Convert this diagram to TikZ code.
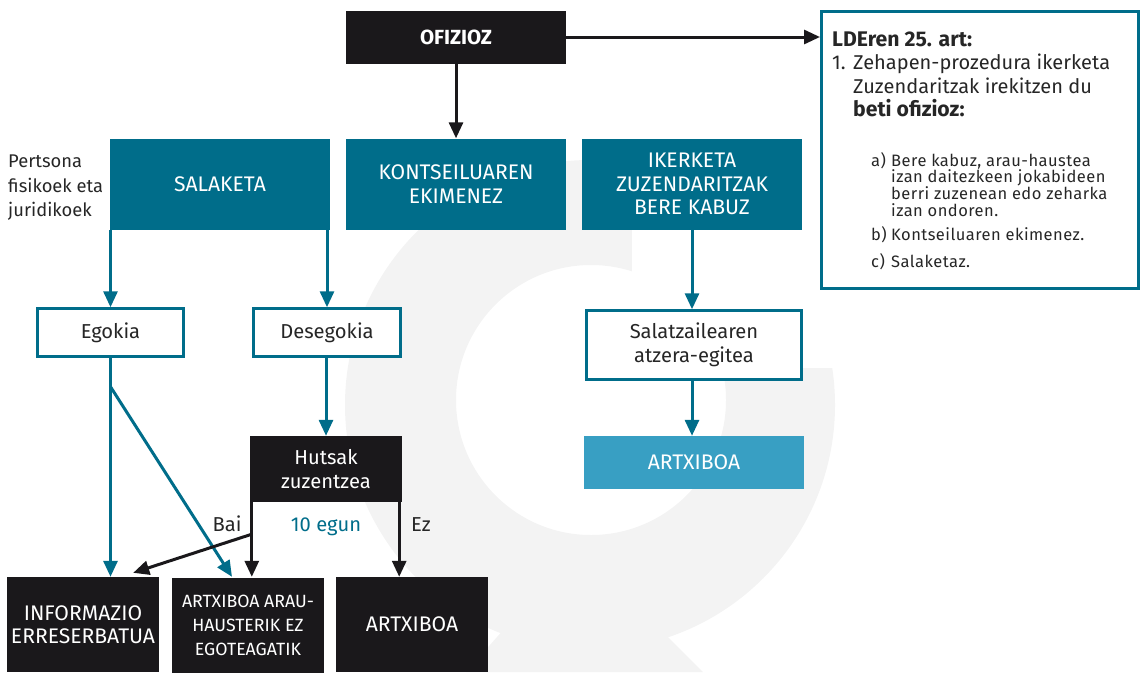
\documentclass[tikz,border=0pt]{standalone}
\usepackage{fontspec}
\setmainfont{Fira Sans}
\usetikzlibrary{arrows.meta,calc}
\definecolor{tealD}{HTML}{006D8A}
\definecolor{blueL}{HTML}{389FC3}
\definecolor{blk}{HTML}{1A181B}
\definecolor{wmark}{HTML}{F3F3F3}
\definecolor{txt}{HTML}{262626}
\newlength\fitlen
\newcommand\fitsz[3]{\settowidth\fitlen{\fontsize{10}{12}\selectfont #2}\pgfmathsetmacro#1{10*#3/\fitlen}}
\newcommand\fitls[5]{\settowidth\fitlen{\fontsize{#2}{12}\selectfont #3}\pgfmathsetmacro#1{100*(#4-\fitlen)/(#5*#2)}}
\begin{document}%
\fitsz\szCaps{KONTSEILUAREN}{155}%
\fitsz\szLow{Salatzailearen}{128.5}%
\fitsz\szPers{fisikoek eta}{95}%
\fitls\lsMain{20}{Zehapen-prozedura ikerketa}{257}{26}%
\fitsz\szBold{\bfseries LDEren 25. art:}{140}%
\fitls\lsSub{16.5}{berri zuzenean edo zeharka}{218}{26}%
\fitsz\szOfi{\bfseries OFIZIOZ}{72}%
\fitsz\szArau{ARTXIBOA ARAU-}{132}%
\edef\mainfnt{\noexpand\fontsize{20}{23}\noexpand\selectfont\noexpand\addfontfeature{LetterSpace=\lsMain}}%
\edef\subfnt{\noexpand\fontsize{16.5}{18}\noexpand\selectfont\noexpand\addfontfeature{LetterSpace=\lsSub}}%
\begin{tikzpicture}[x=1pt,y=-1pt,
  capsfont/.style={font=\fontsize{\szCaps}{23.5}\selectfont},
  lowfont/.style={font=\fontsize{\szLow}{24}\selectfont},
  tbox/.style={fill=tealD,text=white,minimum width=220pt,minimum height=91pt,inner sep=0pt,align=center,capsfont},
  wbox/.style={draw=tealD,line width=2.5pt,fill=white,text=txt,inner sep=0pt,align=center,lowfont},
  kbox/.style={fill=blk,text=white,inner sep=0pt,align=center,capsfont},
  tarr/.style={draw=tealD,line width=3pt,-{Triangle[width=14pt,length=16pt]}},
  karr/.style={draw=blk,line width=3pt,-{Triangle[width=14pt,length=16pt]}},
  lbl/.style={text=txt,inner sep=0pt,lowfont},
  pers/.style={text=txt,inner sep=0pt,anchor=base west,font=\fontsize{\szPers}{24}\selectfont},
  rtxt/.style={text=txt,inner sep=0pt,anchor=base west,font=\mainfnt},
  rbold/.style={text=txt,inner sep=0pt,anchor=base west,font=\bfseries\fontsize{\szBold}{23}\selectfont},
  stxt/.style={text=txt,inner sep=0pt,anchor=base west,font=\subfnt}]
\useasboundingbox (0,0) rectangle (1142,672);
% watermark
\fill[wmark,even odd rule] (590,405) circle[radius=245] (591,400) circle[radius=135];
\fill[white] (632,120) rectangle (860,368);
\fill[wmark] (505,628) -- (663,632) -- (703,672) -- (466,672) -- cycle;
% top
\node[kbox,minimum width=220pt,minimum height=53pt,font=\bfseries\fontsize{\szOfi}{22}\selectfont] (ofi) at (456,37) {OFIZIOZ};
\node[draw=tealD,line width=3pt,minimum width=317pt,minimum height=277pt,inner sep=0pt] (art) at (980,150) {};
\node[rbold] (r1) at (832,46) {LDEren 25. art:};
\node[rtxt] (r2a) at (832,69) {1.};
\node[rtxt] (r2) at (853,69) {Zehapen-prozedura ikerketa};
\node[rtxt] (r3) at (853,93) {Zuzendaritzak irekitzen du};
\node[rbold] (r4) at (853,116) {beti ofizioz:};
\node[stxt] (sa) at (871,166) {a)};
\node[stxt] (sa1) at (891,166) {Bere kabuz, arau-haustea};
\node[stxt] (sa2) at (891,182.7) {izan daitezkeen jokabideen};
\node[stxt] (sa3) at (891,199.3) {berri zuzenean edo zeharka};
\node[stxt] (sa4) at (891,216) {izan ondoren.};
\node[stxt] (sb) at (871,240) {b)};
\node[stxt] (sb1) at (891,240) {Kontseiluaren ekimenez.};
\node[stxt] (sc) at (871,267) {c)};
\node[stxt] (sc1) at (891,267) {Salaketaz.};
% second row
\node[pers] (pers1) at (8,167) {Pertsona};
\node[pers] (pers2) at (8,192) {fisikoek eta};
\node[pers] (pers3) at (8,216) {juridikoek};
\node[tbox] (sal) at (220,184) {SALAKETA};
\node[tbox] (kont) at (456,184) {KONTSEILUAREN\\EKIMENEZ};
\node[tbox] (iker) at (692,184) {IKERKETA\\ZUZENDARITZAK\\BERE KABUZ};
% third row
\node[wbox,minimum width=146pt,minimum height=48pt] (egok) at (110.5,332.5) {Egokia};
\node[wbox,minimum width=147pt,minimum height=48pt] (deseg) at (327,332.5) {Desegokia};
\node[wbox,minimum width=215pt,minimum height=69pt] (salz) at (694,345) {Salatzailearen\\atzera-egitea};
\node[fill=blueL,text=white,inner sep=0pt,capsfont,minimum width=220pt,minimum height=53pt] (artl) at (694,462.5) {ARTXIBOA};
\node[kbox,lowfont,minimum width=152pt,minimum height=66pt] (hut) at (326,469) {Hutsak\\zuzentzea};
% bottom row
\node[kbox,minimum width=152pt,minimum height=95pt] (info) at (83,624.5) {INFORMAZIO\\ERRESERBATUA};
\node[kbox,minimum width=152pt,minimum height=95pt,font=\fontsize{\szArau}{24}\selectfont] (arau) at (248,625.5) {ARTXIBOA ARAU-\\HAUSTERIK EZ\\EGOTEAGATIK};
\node[kbox,minimum width=152pt,minimum height=95pt] (artb) at (412,624.5) {ARTXIBOA};
% labels
\node[lbl,anchor=base] (bai) at (227,531) {Bai};
\node[lbl,anchor=base,text=tealD] (egun) at (326,531) {10 egun};
\node[lbl,anchor=base] (ez) at (421,531) {Ez};
% connectors
\draw[karr] (ofi.south) -- (kont.north);
\draw[karr] (ofi.east) -- (ofi.east -| art.west);
\draw[tarr] (egok |- sal.south) -- (egok.north);
\draw[tarr] (deseg |- sal.south) -- (deseg.north);
\draw[tarr] (egok.south) -- (egok.south |- info.north);
\coordinate (dg) at ($(egok.south)+(0,29)$);
\draw[tarr] (dg) -- ($(arau.north)+(-16,-1)$);
\draw[tarr] (hut |- deseg.south) -- (hut.north);
\coordinate (hl) at ($(hut.south west)+(2,0)$);
\draw[karr] (hl) -- (hl |- info.north);
\coordinate (hb) at ($(hl)+(0,32)$);
\draw[karr] (hb) -- ($(info.north east)+(-26,-4)$);
\coordinate (hr) at ($(hut.south east)+(-3,0)$);
\draw[karr] (hr) -- (hr |- artb.north);
\draw[tarr] (iker.south) -- (iker.south |- salz.north);
\draw[tarr] (iker.south |- salz.south) -- (iker.south |- artl.north);
\end{tikzpicture}%
\end{document}
